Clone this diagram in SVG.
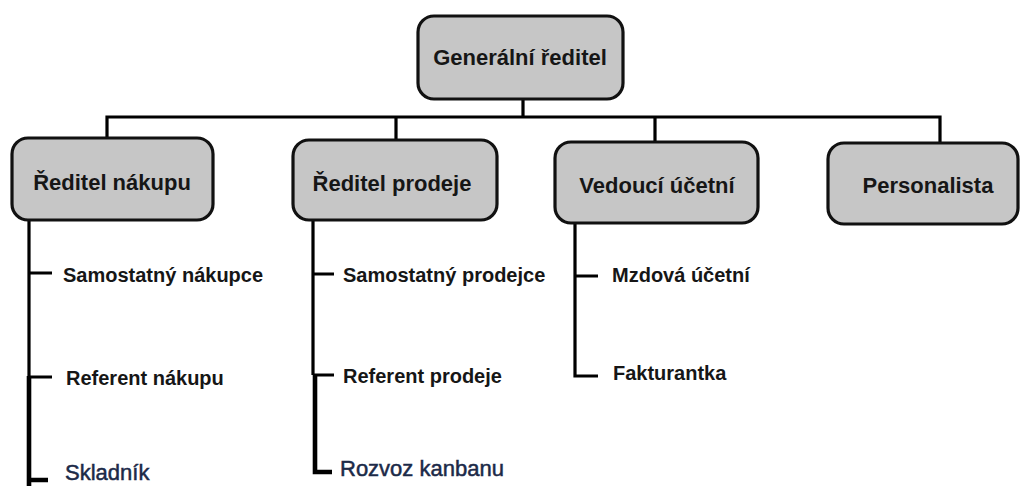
<svg xmlns="http://www.w3.org/2000/svg" width="1020" height="486" viewBox="0 0 1020 486">
<style>
.box{fill:#c6c6c6;stroke:#111;stroke-width:3.2}
.hd{font-family:"Liberation Sans",Arial,sans-serif;font-weight:bold;font-size:22px;fill:#161616;text-anchor:middle}
.ch{font-family:"Liberation Sans",Arial,sans-serif;font-weight:bold;font-size:20px;fill:#161616}
.nv{font-family:"Liberation Sans",Arial,sans-serif;font-size:22px;fill:#1c2a48;stroke:#1c2a48;stroke-width:0.5}
.ln{fill:none;stroke:#000;stroke-width:3.2;stroke-linejoin:miter}
.lt{fill:none;stroke:#000;stroke-width:4.6}
</style>
<rect width="1020" height="486" fill="#fff"/>
<g id="connectors">
<path class="ln" d="M523 99V117M107 138V117H940V143M396 117V140M655 117V142"/>
<path class="ln" d="M29 220V377M29 273H52M29 377H52"/>
<path class="lt" d="M29 376V486M27 480H48"/>
<path class="ln" d="M313 220V375M313 274H334M313 375H334"/>
<path class="lt" d="M315 374V472H332"/>
<path class="ln" d="M575 223V376H598M575 276H598"/>
</g>
<g id="n-general"><rect class="box" x="418" y="16" width="205" height="83" rx="16"/><text class="hd" x="520" y="65">Generální ředitel</text></g>
<g id="n-nakup"><rect class="box" x="12" y="138" width="201" height="82" rx="16"/><text class="hd" x="112" y="190">Ředitel nákupu</text></g>
<g id="n-prodej"><rect class="box" x="293" y="140" width="204" height="80" rx="16"/><text class="hd" x="392" y="191">Ředitel prodeje</text></g>
<g id="n-ucetni"><rect class="box" x="555" y="142" width="203" height="81" rx="16"/><text class="hd" x="657" y="193">Vedoucí účetní</text></g>
<g id="n-personalista"><rect class="box" x="828" y="143" width="190" height="81" rx="16"/><text class="hd" x="928" y="193">Personalista</text></g>
<g id="c-samnak"><text class="ch" x="63" y="282">Samostatný nákupce</text></g>
<g id="c-refnak"><text class="ch" x="66" y="385">Referent nákupu</text></g>
<g id="c-sklad"><text class="nv" x="65" y="480">Skladník</text></g>
<g id="c-samprod"><text class="ch" x="343" y="282">Samostatný prodejce</text></g>
<g id="c-refprod"><text class="ch" x="343" y="383">Referent prodeje</text></g>
<g id="c-rozvoz"><text class="nv" x="340" y="476">Rozvoz kanbanu</text></g>
<g id="c-mzdova"><text class="ch" x="612" y="282">Mzdová účetní</text></g>
<g id="c-faktur"><text class="ch" x="613" y="380">Fakturantka</text></g>
</svg>
